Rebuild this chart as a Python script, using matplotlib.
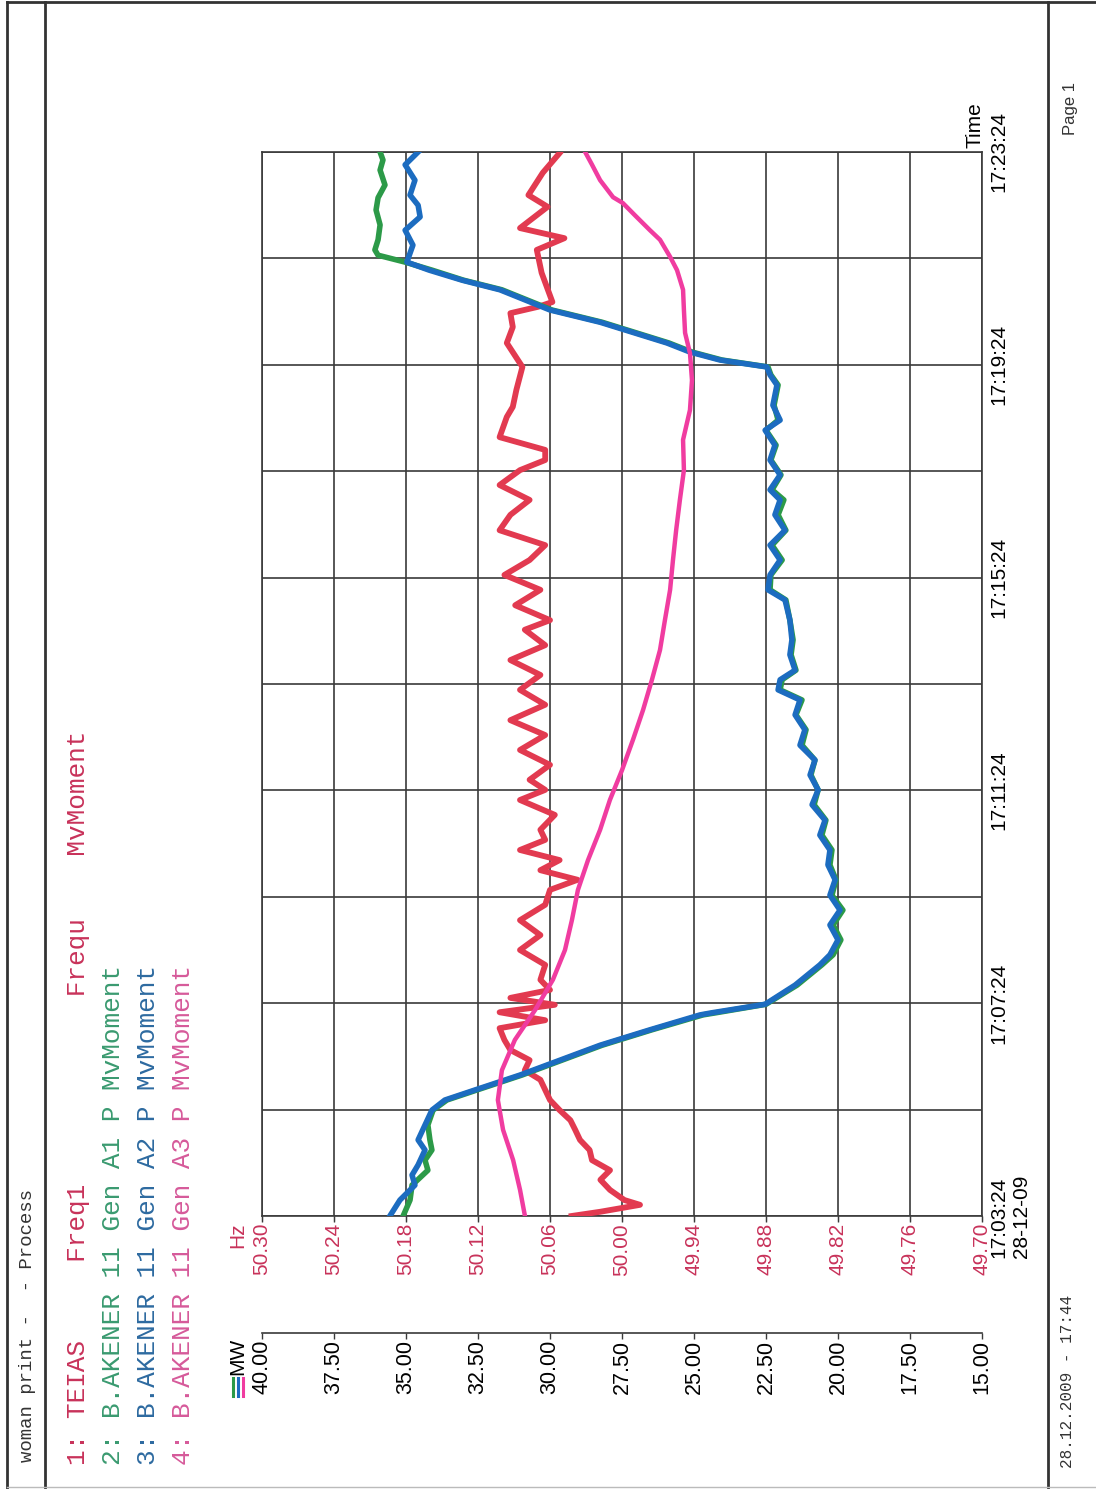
import numpy as np
import matplotlib.pyplot as plt
from matplotlib.lines import Line2D

# ------------------------------------------------------------
# Trend data, 28-12-09, 17:03:24 .. 17:23:24 (time in minutes)
# ------------------------------------------------------------

time_ticks = [0, 4, 8, 12, 16, 20]
time_labels = ["17:03:24\n28-12-09", "17:07:24", "17:11:24",
               "17:15:24", "17:19:24", "17:23:24"]
time_grid = [0, 2, 4, 6, 8, 10, 12, 14, 16, 18, 20]

mw_ticks = [40.0, 37.5, 35.0, 32.5, 30.0, 27.5, 25.0, 22.5, 20.0, 17.5, 15.0]
hz_ticks = [50.30, 50.24, 50.18, 50.12, 50.06, 50.00, 49.94, 49.88, 49.82, 49.76, 49.70]

# 1: TEIAS Freq1 (Hz)
freq_t = [0.00, 0.08, 0.21, 0.30, 0.49, 0.68, 0.86, 1.05, 1.24, 1.43, 1.62, 1.80,
          1.99, 2.18, 2.37, 2.56, 2.74, 2.93, 3.12, 3.31, 3.53, 3.68, 3.83, 3.97,
          4.10, 4.25, 4.44, 4.72, 5.00, 5.28, 5.56, 5.85, 6.13, 6.32, 6.50, 6.69,
          6.88, 7.07, 7.26, 7.54, 7.82, 8.01, 8.20, 8.48, 8.76, 9.04, 9.32, 9.61,
          9.89, 10.17, 10.45, 10.73, 11.02, 11.20, 11.48, 11.77, 12.05, 12.33,
          12.61, 12.89, 13.18, 13.46, 13.74, 14.02, 14.21, 14.40, 14.64, 15.02,
          15.21, 15.53, 15.96, 16.41, 16.71, 16.97, 17.09, 17.18, 17.73, 18.16,
          18.38, 18.57, 18.97, 19.19, 19.61, 19.98]
freq_hz = [50.042, 50.018, 49.985, 49.998, 50.010, 50.018, 50.010, 50.025, 50.027,
           50.035, 50.039, 50.043, 50.052, 50.060, 50.064, 50.068, 50.081, 50.077,
           50.093, 50.098, 50.102, 50.064, 50.102, 50.056, 50.093, 50.060, 50.068,
           50.064, 50.085, 50.068, 50.085, 50.064, 50.060, 50.037, 50.068, 50.052,
           50.085, 50.064, 50.068, 50.056, 50.085, 50.064, 50.077, 50.060, 50.085,
           50.064, 50.093, 50.064, 50.085, 50.068, 50.093, 50.064, 50.081, 50.060,
           50.089, 50.068, 50.098, 50.077, 50.064, 50.102, 50.093, 50.077, 50.102,
           50.085, 50.064, 50.064, 50.102, 50.096, 50.091, 50.088, 50.083, 50.096,
           50.091, 50.093, 50.070, 50.058, 50.067, 50.071, 50.048, 50.085, 50.062,
           50.078, 50.066, 50.052]

# 2: B.AKENER 11 Gen A1 P MvMoment (MW)
a1_t = [0.00, 0.30, 0.58, 0.86, 1.05, 1.24, 1.43, 1.71, 1.99, 2.18, 2.37, 2.65,
        2.93, 3.21, 3.50, 3.78, 3.82, 3.98, 4.34, 4.72, 4.91, 5.19, 5.47, 5.75,
        6.03, 6.32, 6.60, 6.88, 7.16, 7.44, 7.73, 8.01, 8.29, 8.57, 8.85, 9.14,
        9.42, 9.70, 9.89, 10.08, 10.26, 10.55, 10.83, 11.20, 11.58, 11.77, 12.05,
        12.33, 12.61, 12.89, 13.18, 13.46, 13.65, 13.93, 14.21, 14.49, 14.77,
        14.96, 15.24, 15.43, 15.62, 15.81, 15.96, 16.09, 16.24, 16.41, 16.80,
        17.03, 17.41, 17.59, 17.78, 17.93, 18.06, 18.16, 18.35, 18.63, 18.91,
        19.14, 19.38, 19.66, 19.85, 20.00]
a1_mw = [35.10, 34.86, 34.79, 34.24, 34.34, 34.10, 34.17, 34.24, 34.06, 33.58,
         32.53, 30.97, 29.58, 28.19, 26.46, 24.69, 24.24, 22.50, 21.42, 20.56,
         20.17, 19.90, 20.17, 19.83, 20.21, 20.07, 20.28, 20.21, 20.56, 20.42,
         20.83, 20.69, 20.94, 20.80, 21.25, 21.11, 21.46, 21.25, 22.01, 21.94,
         21.46, 21.63, 21.56, 21.67, 21.81, 22.36, 22.33, 21.94, 22.29, 21.81,
         22.08, 21.88, 22.29, 21.98, 22.33, 22.15, 22.50, 22.08, 22.22, 22.15,
         22.08, 22.33, 22.43, 24.03, 25.07, 25.87, 28.19, 29.93, 31.67, 33.00,
         34.10, 35.03, 35.97, 36.08, 35.97, 35.90, 36.04, 35.97, 35.73, 35.90,
         35.80, 35.90]

# 3: B.AKENER 11 Gen A2 P MvMoment (MW)
a2_t = [0.00, 0.30, 0.58, 0.77, 0.96, 1.24, 1.43, 1.71, 1.99, 2.18, 2.37, 2.65,
        2.93, 3.21, 3.50, 3.78, 3.82, 3.98, 4.34, 4.72, 4.91, 5.19, 5.47, 5.75,
        6.03, 6.32, 6.60, 6.88, 7.16, 7.44, 7.73, 8.01, 8.29, 8.57, 8.85, 9.14,
        9.42, 9.70, 9.89, 10.08, 10.26, 10.55, 10.83, 11.20, 11.58, 11.77, 12.05,
        12.33, 12.61, 12.89, 13.18, 13.46, 13.65, 13.93, 14.21, 14.49, 14.77,
        14.96, 15.24, 15.43, 15.62, 15.81, 15.96, 16.09, 16.24, 16.41, 16.80,
        17.03, 17.41, 17.59, 17.78, 17.93, 18.25, 18.53, 18.78, 19.00, 19.19,
        19.47, 19.76, 20.00]
a2_mw = [35.56, 35.21, 34.69, 34.79, 34.58, 34.34, 34.58, 34.34, 34.10, 33.65,
         32.60, 31.04, 29.65, 28.26, 26.53, 24.79, 24.38, 22.53, 21.49, 20.63,
         20.28, 20.00, 20.28, 19.93, 20.28, 20.10, 20.35, 20.28, 20.63, 20.45,
         20.90, 20.69, 20.97, 20.80, 21.32, 21.15, 21.49, 21.32, 22.08, 22.01,
         21.49, 21.67, 21.60, 21.67, 21.84, 22.43, 22.36, 22.01, 22.36, 21.84,
         22.19, 22.01, 22.36, 22.01, 22.36, 22.19, 22.53, 22.01, 22.26, 22.19,
         22.12, 22.36, 22.47, 24.10, 25.14, 25.94, 28.26, 30.00, 31.74, 33.05,
         34.20, 34.97, 34.76, 35.03, 34.51, 34.58, 34.86, 34.69, 35.03, 34.58]

# 4: B.AKENER 11 Gen A3 P MvMoment (MW)
a3_t = [0.00, 0.49, 1.05, 1.62, 2.18, 2.74, 3.31, 3.87, 4.44, 5.00, 5.56, 6.13,
        6.69, 7.26, 7.82, 8.38, 8.95, 9.51, 10.08, 10.64, 11.20, 11.77, 12.33,
        12.89, 13.46, 14.02, 14.59, 15.15, 15.71, 16.22, 16.60, 17.03, 17.41,
        17.78, 18.03, 18.35, 18.53, 18.81, 19.04, 19.15, 19.47, 19.76, 20.00]
a3_mw = [30.87, 31.04, 31.28, 31.63, 31.81, 31.67, 31.22, 30.52, 29.90, 29.48,
         29.24, 29.03, 28.68, 28.26, 27.92, 27.50, 27.12, 26.77, 26.46, 26.18,
         26.01, 25.83, 25.73, 25.62, 25.49, 25.35, 25.38, 25.14, 25.07, 25.14,
         25.31, 25.35, 25.38, 25.59, 25.83, 26.18, 26.53, 27.05, 27.47, 27.81,
         28.26, 28.54, 28.78]

RED = "#e23a50"
GREEN = "#2c9a48"
BLUE = "#1c6cc0"
PINK = "#f03ca0"
HZ_TEXT = "#c8325a"
GRID = "#3a3a3a"

W, H = 1096, 1489


def px(x, y):
    # page pixel -> figure fraction
    return x / W, 1 - y / H


fig = plt.figure(figsize=(W / 100, H / 100), dpi=100)

# ------------------------------------------------------------
# Chart area (value across, time running upward)
# ------------------------------------------------------------

ax = fig.add_axes([262 / W, 1 - 1216 / H, 720 / W, 1064 / H])
ax.set_xlim(40, 15)
ax.set_ylim(0, 20)
ax.set_xticks(mw_ticks)
ax.set_yticks(time_grid)
ax.grid(True, color=GRID, lw=1.2)
for s in ax.spines.values():
    s.set_color(GRID)
    s.set_linewidth(1.2)
ax.tick_params(axis="x", bottom=False, labelbottom=False)
ax.tick_params(axis="y", left=False, labelleft=False, right=False, labelright=True,
               pad=2, labelsize=15)
ax.set_yticklabels([time_labels[time_ticks.index(t)] if t in time_ticks else ""
                    for t in time_grid], rotation=90, va="center",
                   family="Liberation Sans")

# frequency scale on its own twin axes
ax_hz = ax.twiny()
ax_hz.set_xlim(50.30, 49.70)
ax_hz.set_xticks(hz_ticks)
ax_hz.set_xticklabels([f"{v:.2f}" for v in hz_ticks], rotation=90,
                      color=HZ_TEXT, family="Liberation Sans", fontsize=15)
ax_hz.xaxis.set_ticks_position("bottom")
ax_hz.tick_params(axis="x", length=4, width=1, color=GRID, pad=1)
for s in ax_hz.spines.values():
    s.set_visible(False)
ax_hz.plot(freq_hz, freq_t, color=RED, lw=4.2, solid_joinstyle="round")

# MW traces drawn above the frequency trace
ax_mw = ax.twiny()
ax_mw.set_xlim(40, 15)
ax_mw.tick_params(axis="x", top=False, labeltop=False)
for s in ax_mw.spines.values():
    s.set_visible(False)
ax_mw.plot(a1_mw, a1_t, color=GREEN, lw=4, solid_joinstyle="round")
ax_mw.plot(a2_mw, a2_t, color=BLUE, lw=4, solid_joinstyle="round")
ax_mw.plot(a3_mw, a3_t, color=PINK, lw=3.2, solid_joinstyle="round")

# separate MW scale below the chart
mw_axis = ax.secondary_xaxis(-0.11)
mw_axis.set_xticks(mw_ticks)
mw_axis.set_xticklabels([f"{v:.2f}" for v in mw_ticks], rotation=90,
                        family="Liberation Sans", fontsize=15.5)
mw_axis.tick_params(axis="x", length=4, width=1, color=GRID, pad=1)
mw_axis.spines["bottom"].set_color(GRID)
mw_axis.spines["bottom"].set_linewidth(1.2)

# unit captions
fig.text(*px(238, 1222), "Hz", rotation=90, ha="center", va="top",
         color=HZ_TEXT, family="Liberation Sans", fontsize=15)
fig.text(*px(238, 1338), "MW", rotation=90, ha="center", va="top",
         family="Liberation Sans", fontsize=15)
for i, c in enumerate([GREEN, BLUE, PINK]):
    xb = (233 + i * 5) / W
    fig.add_artist(Line2D([xb, xb], [1 - 1378 / H, 1 - 1396 / H],
                          color=c, lw=2.2))
fig.text(*px(975, 148), "Time", rotation=90, ha="center", va="bottom",
         family="Liberation Sans", fontsize=15)

# ------------------------------------------------------------
# Page header, legend and footer
# ------------------------------------------------------------

mono = "Liberation Mono"
fig.text(*px(28, 1462), "woman print -  - Process", rotation=90, ha="center",
         va="bottom", family=mono, fontsize=13.7, color="#333333")

legend_rows = [
    ("1: TEIAS     Freq1            Frequ    MvMoment", HZ_TEXT, 78),
    ("2: B.AKENER 11 Gen A1 P MvMoment", "#3a9a70", 113),
    ("3: B.AKENER 11 Gen A2 P MvMoment", "#2d6aa0", 148),
    ("4: B.AKENER 11 Gen A3 P MvMoment", "#d65a9a", 183),
]
for text, color, xc in legend_rows:
    fig.text(*px(xc, 1465), text, rotation=90, ha="center", va="bottom",
             family=mono, fontsize=18.8, color=color)

fig.text(*px(1068, 1468), "28.12.2009 - 17:44", rotation=90, ha="center",
         va="bottom", family=mono, fontsize=11.5, color="#333333")
fig.text(*px(1070, 135), "Page 1", rotation=90, ha="center", va="bottom",
         family="Liberation Sans", fontsize=12, color="#333333")

# page frame
frame_kw = dict(color="#333333", lw=2)
for xl in (7, 45, 1048):
    fig.add_artist(Line2D([xl / W, xl / W], [0, 1 - 2 / H], **frame_kw))
fig.add_artist(Line2D([7 / W, 1], [1 - 2 / H, 1 - 2 / H], **frame_kw))
fig.add_artist(Line2D([7 / W, 1], [1 - 1487 / H, 1 - 1487 / H], color="#bbbbbb", lw=1))

fig.savefig("out.png", dpi=100)
